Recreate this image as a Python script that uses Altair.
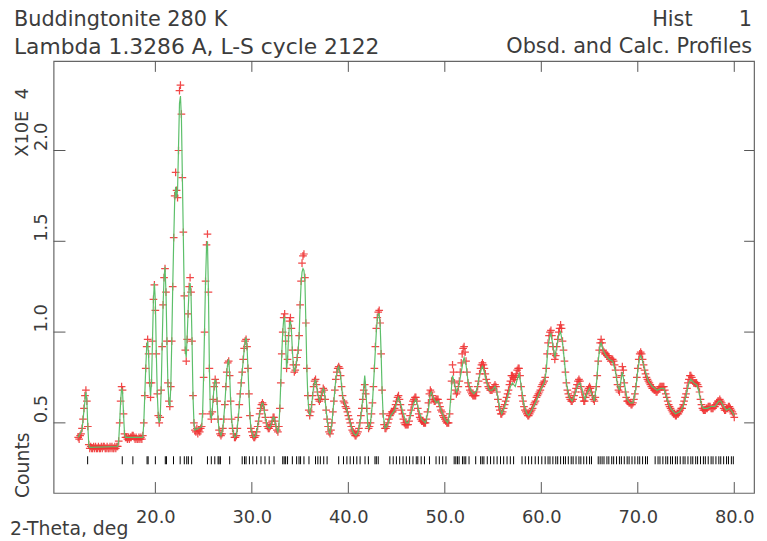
import altair as alt
import pandas as pd

# ---------------- data ----------------
# observed profile, 2-theta grid 12.0 .. 80.0 step 0.1 deg (counts x 1e4)
obs_start, obs_step = 12.0, 0.1
obs_counts = [
    0.42, 0.41, 0.43, 0.44, 0.47, 0.52, 0.58, 0.65, 0.68, 0.62,  # 12
    0.48, 0.38, 0.36, 0.37, 0.36, 0.36, 0.37, 0.36, 0.37, 0.36,  # 13
    0.36, 0.37, 0.36, 0.36, 0.37, 0.36, 0.37, 0.37, 0.36, 0.36,  # 14
    0.37, 0.36, 0.36, 0.37, 0.36, 0.37, 0.36, 0.36, 0.37, 0.36,  # 15
    0.37, 0.37, 0.40, 0.50, 0.62, 0.70, 0.68, 0.55, 0.44, 0.42,  # 16
    0.42, 0.41, 0.42, 0.41, 0.42, 0.42, 0.43, 0.43, 0.42, 0.41,  # 17
    0.42, 0.41, 0.41, 0.42, 0.41, 0.42, 0.41, 0.43, 0.50, 0.65,  # 18
    0.80, 0.92, 0.96, 0.88, 0.72, 0.64, 0.72, 0.95, 1.18, 1.26,  # 19
    1.12, 0.88, 0.66, 0.54, 0.50, 0.53, 0.68, 0.92, 1.15, 1.30,  # 20
    1.35, 1.22, 0.95, 0.72, 0.62, 0.59, 0.70, 0.95, 1.25, 1.52,  # 21
    1.75, 1.88, 1.78, 1.74, 2.00, 2.33, 2.36, 2.20, 1.85, 1.55,  # 22
    1.20, 0.90, 0.84, 0.96, 1.10, 1.25, 1.30, 1.22, 0.95, 0.65,  # 23
    0.50, 0.46, 0.45, 0.47, 0.44, 0.46, 0.45, 0.47, 0.48, 0.55,  # 24
    0.75, 1.00, 1.28, 1.48, 1.54, 1.22, 0.80, 0.55, 0.52, 0.56,  # 25
    0.63, 0.70, 0.74, 0.72, 0.62, 0.52, 0.46, 0.44, 0.43, 0.44,  # 26
    0.47, 0.52, 0.60, 0.70, 0.78, 0.83, 0.84, 0.76, 0.62, 0.52,  # 27
    0.47, 0.44, 0.42, 0.42, 0.43, 0.47, 0.53, 0.60, 0.66, 0.72,  # 28
    0.78, 0.85, 0.91, 0.95, 0.96, 0.92, 0.80, 0.66, 0.54, 0.47,  # 29
    0.45, 0.43, 0.42, 0.42, 0.43, 0.45, 0.48, 0.51, 0.55, 0.58,  # 30
    0.60, 0.61, 0.60, 0.57, 0.53, 0.50, 0.48, 0.47, 0.47, 0.48,  # 31
    0.49, 0.51, 0.53, 0.53, 0.51, 0.48, 0.46, 0.45, 0.48, 0.58,  # 32
    0.72, 0.88, 1.00, 1.08, 1.10, 0.95, 0.80, 0.85, 0.98, 1.06,  # 33
    1.08, 1.02, 0.90, 0.82, 0.78, 0.79, 0.82, 0.86, 0.90, 0.98,  # 34
    1.15, 1.28, 1.38, 1.42, 1.43, 1.30, 1.05, 0.80, 0.65, 0.57,  # 35
    0.54, 0.56, 0.60, 0.65, 0.70, 0.73, 0.74, 0.71, 0.67, 0.63,  # 36
    0.62, 0.63, 0.65, 0.67, 0.69, 0.68, 0.63, 0.57, 0.52, 0.48,  # 37
    0.45, 0.44, 0.46, 0.50, 0.56, 0.62, 0.68, 0.74, 0.78, 0.80,  # 38
    0.81, 0.80, 0.76, 0.70, 0.65, 0.62, 0.61, 0.59, 0.58, 0.56,  # 39
    0.54, 0.52, 0.50, 0.48, 0.46, 0.45, 0.44, 0.43, 0.43, 0.44,  # 40
    0.45, 0.47, 0.50, 0.54, 0.58, 0.63, 0.68, 0.71, 0.66, 0.58,  # 41
    0.50, 0.47, 0.48, 0.50, 0.55, 0.61, 0.70, 0.80, 0.92, 1.02,  # 42
    1.08, 1.11, 1.12, 1.05, 0.88, 0.68, 0.55, 0.49, 0.47, 0.47,  # 43
    0.48, 0.50, 0.52, 0.54, 0.55, 0.56, 0.56, 0.57, 0.58, 0.60,  # 44
    0.62, 0.64, 0.65, 0.63, 0.60, 0.57, 0.55, 0.52, 0.50, 0.49,  # 45
    0.49, 0.49, 0.49, 0.51, 0.54, 0.57, 0.60, 0.62, 0.63, 0.64,  # 46
    0.64, 0.62, 0.58, 0.55, 0.53, 0.52, 0.51, 0.51, 0.50, 0.50,  # 47
    0.50, 0.52, 0.56, 0.61, 0.66, 0.68, 0.67, 0.65, 0.63, 0.62,  # 48
    0.62, 0.63, 0.63, 0.63, 0.61, 0.59, 0.57, 0.56, 0.54, 0.53,  # 49
    0.52, 0.51, 0.50, 0.50, 0.50, 0.55, 0.63, 0.73, 0.82, 0.78,  # 50
    0.72, 0.68, 0.66, 0.67, 0.70, 0.73, 0.78, 0.83, 0.88, 0.91,  # 51
    0.92, 0.89, 0.84, 0.78, 0.72, 0.70, 0.68, 0.67, 0.66, 0.65,  # 52
    0.65, 0.65, 0.65, 0.67, 0.70, 0.73, 0.77, 0.80, 0.82, 0.83,  # 53
    0.82, 0.80, 0.77, 0.74, 0.72, 0.70, 0.69, 0.68, 0.68, 0.68,  # 54
    0.69, 0.70, 0.71, 0.70, 0.67, 0.63, 0.59, 0.57, 0.55, 0.55,  # 55
    0.56, 0.58, 0.60, 0.62, 0.64, 0.66, 0.68, 0.71, 0.73, 0.76,  # 56
    0.76, 0.75, 0.74, 0.75, 0.77, 0.79, 0.80, 0.80, 0.76, 0.70,  # 57
    0.65, 0.62, 0.59, 0.57, 0.56, 0.55, 0.54, 0.54, 0.55, 0.56,  # 58
    0.57, 0.58, 0.60, 0.61, 0.62, 0.64, 0.65, 0.66, 0.67, 0.68,  # 59
    0.70, 0.71, 0.72, 0.73, 0.75, 0.80, 0.88, 0.94, 0.98, 1.00,  # 60
    1.01, 0.98, 0.92, 0.88, 0.85, 0.87, 0.92, 0.96, 1.00, 1.02,  # 61
    1.04, 1.02, 0.95, 0.90, 0.84, 0.78, 0.72, 0.68, 0.66, 0.64,  # 62
    0.63, 0.62, 0.62, 0.63, 0.65, 0.67, 0.69, 0.71, 0.73, 0.74,  # 63
    0.73, 0.70, 0.67, 0.64, 0.62, 0.62, 0.64, 0.66, 0.68, 0.69,  # 64
    0.70, 0.69, 0.67, 0.65, 0.63, 0.62, 0.64, 0.70, 0.76, 0.84,  # 65
    0.90, 0.94, 0.96, 0.94, 0.90, 0.89, 0.88, 0.88, 0.87, 0.87,  # 66
    0.86, 0.85, 0.84, 0.85, 0.85, 0.84, 0.82, 0.79, 0.75, 0.71,  # 67
    0.68, 0.67, 0.70, 0.76, 0.81, 0.79, 0.72, 0.67, 0.64, 0.62,  # 68
    0.62, 0.61, 0.61, 0.60, 0.60, 0.61, 0.63, 0.66, 0.70, 0.75,  # 69
    0.80, 0.85, 0.88, 0.89, 0.88, 0.85, 0.82, 0.79, 0.77, 0.75,  # 70
    0.74, 0.73, 0.72, 0.71, 0.70, 0.69, 0.69, 0.68, 0.68, 0.67,  # 71
    0.67, 0.68, 0.69, 0.70, 0.70, 0.70, 0.70, 0.70, 0.68, 0.66,  # 72
    0.64, 0.62, 0.60, 0.59, 0.58, 0.57, 0.56, 0.55, 0.55, 0.54,  # 73
    0.54, 0.55, 0.55, 0.56, 0.57, 0.58, 0.58, 0.60, 0.62, 0.64,  # 74
    0.66, 0.69, 0.72, 0.74, 0.76, 0.76, 0.75, 0.73, 0.72, 0.72,  # 75
    0.72, 0.72, 0.71, 0.70, 0.67, 0.63, 0.60, 0.58, 0.57, 0.57,  # 76
    0.57, 0.58, 0.58, 0.59, 0.59, 0.59, 0.58, 0.58, 0.58, 0.59,  # 77
    0.59, 0.60, 0.61, 0.62, 0.62, 0.63, 0.62, 0.61, 0.60, 0.58,  # 78
    0.57, 0.57, 0.58, 0.58, 0.59, 0.59, 0.58, 0.57, 0.56, 0.55,  # 79
    0.53,                                                        # 80
]
obs_2theta = [round(obs_start + obs_step * i, 2) for i in range(len(obs_counts))]

# calculated profile (knots along the green curve)
calc_2theta = [
    12.0, 12.4, 12.6, 12.8, 12.9, 13.0, 13.1, 13.2, 16.1, 16.2, 16.3, 16.4, 16.5, 16.6, 16.7, 16.8, 16.9,
    18.7, 18.8, 18.9, 19.0, 19.1, 19.2, 19.3, 19.4, 19.5, 19.6, 19.7, 19.8, 19.9, 20.0, 20.1, 20.2, 20.3,
    20.4, 20.5, 20.6, 20.7, 20.8, 20.9, 21.0, 21.1, 21.2, 21.3, 21.4, 21.5, 21.6, 21.7, 21.8, 21.9, 22.0,
    22.1, 22.2, 22.3, 22.4, 22.5, 22.6, 22.7, 22.8, 22.9, 23.0, 23.1, 23.2, 23.3, 23.4, 23.5, 23.6, 23.7,
    23.8, 23.9, 24.0, 24.1, 24.8, 24.9, 25.0, 25.1, 25.2, 25.3, 25.4, 25.5, 25.6, 25.7, 25.8, 25.9, 26.0,
    26.1, 26.2, 26.3, 26.4, 26.5, 26.6, 26.8, 27.0, 27.2, 27.4, 27.5, 27.6, 27.7, 27.8, 27.9, 28.0, 28.2,
    28.4, 28.6, 28.8, 29.0, 29.2, 29.3, 29.4, 29.5, 29.6, 29.7, 29.8, 29.9, 30.0, 30.2, 30.4, 30.6, 30.8,
    31.0, 31.1, 31.2, 31.4, 31.6, 31.8, 32.0, 32.2, 32.3, 32.5, 32.7, 32.8, 32.9, 33.0, 33.1, 33.2, 33.3,
    33.4, 33.5, 33.6, 33.7, 33.8, 33.9, 34.0, 34.1, 34.2, 34.3, 34.4, 34.6, 34.8, 34.9, 35.0, 35.1, 35.2,
    35.3, 35.4, 35.5, 35.6, 35.7, 35.8, 35.9, 36.0, 36.2, 36.4, 36.6, 36.8, 37.0, 37.2, 37.4, 37.5, 37.7,
    37.9, 38.0, 38.1, 38.3, 38.5, 38.7, 38.9, 39.0, 39.2, 39.4, 39.6, 39.8, 40.0, 40.2, 40.4, 40.6, 40.8,
    41.0, 41.2, 41.4, 41.6, 41.7, 41.8, 41.9, 42.0, 42.1, 42.3, 42.5, 42.7, 42.9, 43.0, 43.1, 43.2, 43.3,
    43.4, 43.5, 43.6, 43.8, 44.0, 44.4, 44.8, 45.0, 45.2, 45.4, 45.7, 46.0, 46.2, 46.5, 46.8, 47.0, 47.3,
    47.6, 48.0, 48.3, 48.5, 48.6, 48.8, 49.1, 49.3, 49.6, 50.0, 50.3, 50.5, 50.7, 50.8, 51.0, 51.2, 51.4,
    51.7, 51.9, 52.0, 52.2, 52.4, 52.7, 53.0, 53.3, 53.6, 53.8, 53.9, 54.1, 54.3, 54.6, 54.9, 55.2, 55.4,
    55.7, 55.9, 56.2, 56.5, 56.8, 57.0, 57.3, 57.5, 57.7, 57.9, 58.2, 58.5, 58.7, 59.0, 59.4, 59.7, 60.0,
    60.3, 60.5, 60.7, 60.9, 61.0, 61.2, 61.4, 61.6, 61.8, 62.0, 62.2, 62.4, 62.6, 62.9, 63.2, 63.5, 63.8,
    64.0, 64.3, 64.5, 64.8, 65.0, 65.3, 65.5, 65.7, 65.9, 66.1, 66.2, 66.4, 66.7, 67.0, 67.4, 67.7, 67.9,
    68.1, 68.3, 68.4, 68.6, 68.9, 69.2, 69.5, 69.8, 70.0, 70.2, 70.3, 70.5, 70.8, 71.1, 71.5, 72.0, 72.4,
    72.7, 73.0, 73.4, 73.9, 74.3, 74.7, 75.0, 75.3, 75.5, 75.8, 76.1, 76.3, 76.6, 76.8, 77.2, 77.6, 78.0,
    78.4, 78.6, 78.9, 79.2, 79.5, 79.8, 80.0,
]
calc_counts = [
    0.42, 0.46, 0.57, 0.67, 0.62, 0.48, 0.38, 0.365, 0.37, 0.40, 0.50, 0.62, 0.69, 0.67, 0.55, 0.44, 0.42,
    0.42, 0.50, 0.65, 0.80, 0.92, 0.95, 0.87, 0.72, 0.65, 0.72, 0.95, 1.18, 1.27, 1.17, 0.88, 0.66, 0.54,
    0.50, 0.53, 0.68, 0.92, 1.15, 1.30, 1.36, 1.22, 0.95, 0.72, 0.62, 0.59, 0.70, 0.95, 1.25, 1.50, 1.72,
    1.80, 1.74, 1.78, 2.02, 2.26, 2.30, 2.18, 1.85, 1.52, 1.18, 0.90, 0.86, 0.98, 1.12, 1.24, 1.27, 1.20,
    0.95, 0.65, 0.50, 0.46, 0.48, 0.56, 0.76, 1.02, 1.28, 1.46, 1.50, 1.22, 0.80, 0.56, 0.52, 0.57, 0.64,
    0.71, 0.74, 0.72, 0.62, 0.52, 0.46, 0.43, 0.47, 0.60, 0.78, 0.83, 0.85, 0.77, 0.62, 0.52, 0.47, 0.42,
    0.43, 0.53, 0.66, 0.78, 0.90, 0.95, 0.97, 0.92, 0.80, 0.66, 0.54, 0.47, 0.45, 0.42, 0.43, 0.48, 0.55,
    0.60, 0.61, 0.60, 0.53, 0.48, 0.47, 0.49, 0.53, 0.53, 0.48, 0.45, 0.48, 0.58, 0.72, 0.88, 1.00, 1.07,
    1.08, 0.94, 0.80, 0.85, 0.97, 1.04, 1.06, 1.01, 0.90, 0.82, 0.78, 0.82, 0.90, 0.98, 1.14, 1.26, 1.33,
    1.35, 1.34, 1.28, 1.05, 0.80, 0.65, 0.57, 0.54, 0.60, 0.70, 0.74, 0.67, 0.62, 0.65, 0.69, 0.68, 0.57,
    0.48, 0.45, 0.44, 0.50, 0.62, 0.74, 0.80, 0.81, 0.76, 0.65, 0.61, 0.58, 0.54, 0.50, 0.46, 0.44, 0.43,
    0.45, 0.50, 0.58, 0.70, 0.76, 0.70, 0.60, 0.50, 0.47, 0.50, 0.61, 0.80, 1.00, 1.07, 1.10, 1.10, 1.04,
    0.88, 0.68, 0.55, 0.47, 0.48, 0.54, 0.57, 0.61, 0.64, 0.61, 0.55, 0.50, 0.50, 0.55, 0.61, 0.63, 0.57,
    0.52, 0.50, 0.57, 0.66, 0.67, 0.64, 0.61, 0.62, 0.57, 0.52, 0.50, 0.56, 0.70, 0.76, 0.72, 0.67, 0.69,
    0.78, 0.84, 0.86, 0.82, 0.73, 0.68, 0.66, 0.68, 0.76, 0.80, 0.81, 0.78, 0.73, 0.68, 0.68, 0.70, 0.67,
    0.58, 0.55, 0.59, 0.64, 0.70, 0.72, 0.70, 0.74, 0.77, 0.71, 0.60, 0.55, 0.54, 0.57, 0.61, 0.65, 0.69,
    0.72, 0.78, 0.92, 0.98, 0.99, 0.93, 0.86, 0.92, 0.98, 1.00, 0.94, 0.84, 0.72, 0.64, 0.62, 0.66, 0.71,
    0.72, 0.67, 0.63, 0.67, 0.69, 0.65, 0.62, 0.70, 0.84, 0.93, 0.94, 0.90, 0.87, 0.85, 0.84, 0.78, 0.71,
    0.68, 0.75, 0.78, 0.72, 0.63, 0.61, 0.61, 0.69, 0.79, 0.86, 0.87, 0.84, 0.78, 0.73, 0.70, 0.68, 0.69,
    0.69, 0.64, 0.58, 0.55, 0.56, 0.59, 0.65, 0.72, 0.74, 0.72, 0.71, 0.68, 0.60, 0.58, 0.58, 0.59, 0.59,
    0.62, 0.62, 0.59, 0.57, 0.58, 0.56, 0.54,
]

# reflection positions (tick marks under the profile)
reflections = [
    12.98, 16.57, 17.67, 19.14, 19.25, 20.0, 21.03, 21.15, 21.88, 22.57, 23.0, 23.25, 23.42, 23.76,
    25.4, 25.8, 26.16, 26.5, 26.6, 26.74, 27.7, 29.0, 29.24, 29.4, 29.75, 30.1, 30.5, 30.95, 31.36,
    31.8, 32.3, 33.2, 33.35, 33.5, 33.7, 34.2, 34.64, 34.89, 35.05, 35.4, 35.92, 36.6, 36.84, 37.1,
    37.45, 37.8, 39.0, 39.5, 39.85, 40.19, 40.54, 40.88, 41.22, 41.73, 42.08, 42.76, 42.9, 43.1,
    44.3, 44.65, 44.98, 45.32, 45.67, 46.01, 46.35, 46.7, 47.04, 47.2, 47.55, 47.89, 48.41, 49.09,
    49.43, 49.78, 50.12, 50.97, 51.14, 51.31, 51.48, 51.83, 52.0, 52.17, 52.51, 53.2, 53.71, 53.88,
    54.05, 54.4, 54.74, 55.08, 55.42, 55.77, 56.1, 56.45, 56.79, 57.13, 58.0, 58.34, 58.68, 59.0,
    59.37, 59.7, 60.05, 60.4, 60.7, 60.9, 61.2, 61.5, 61.7, 62.0, 62.3, 62.5, 62.8, 63.1, 63.3, 63.6,
    63.9, 64.1, 64.4, 64.7, 65.0, 65.2, 65.9, 66.1, 66.3, 66.5, 66.8, 67.0, 67.3, 67.5, 67.8, 68.1,
    68.3, 68.6, 68.9, 69.1, 69.4, 69.7, 70.0, 70.2, 70.5, 70.8, 71.0, 71.8, 72.1, 72.3, 72.6, 72.9,
    73.1, 73.4, 73.6, 73.9, 74.1, 74.4, 74.7, 74.9, 75.2, 75.5, 75.7, 76.0, 76.2, 76.5, 76.8, 77.0,
    77.3, 77.6, 77.8, 78.1, 78.4, 78.6, 78.9, 79.2, 79.4, 79.7, 79.9,
]
refl_band = [0.272, 0.316]

x_ticks = [20.0, 30.0, 40.0, 50.0, 60.0, 70.0, 80.0]
y_ticks = [0.5, 1.0, 1.5, 2.0]
x_domain = [9.45, 82.05]
y_domain = [0.114, 2.493]

# ---------------- chart ----------------
W, H = 707, 436
FONT = "DejaVu Sans"
TXT = "#3c3c3c"
RED = "#f03535"
GREEN = "#5cbf6a"

obs_df = pd.DataFrame({"tth": obs_2theta, "counts": obs_counts})
calc_df = pd.DataFrame({"tth": calc_2theta, "counts": calc_counts})
refl_df = pd.DataFrame({"tth": reflections})
xt_df = pd.DataFrame({"tth": x_ticks})
yt_df = pd.DataFrame({"counts": y_ticks})

xs = alt.Scale(domain=x_domain, nice=False, zero=False)
ys = alt.Scale(domain=y_domain, nice=False, zero=False)

x_axis = alt.Axis(values=x_ticks, format=".1f", ticks=False, domain=False, grid=False,
                  labelPadding=25, labelBaseline="middle", labelAlign="center",
                  labelFont=FONT, labelFontSize=18, labelColor=TXT, title=None,
                  labelOverlap=False, labelFlush=False)
y_axis = alt.Axis(values=y_ticks, format=".1f", ticks=False, domain=False, grid=False,
                  labelPadding=12, labelAngle=270, labelAlign="left", labelBaseline="middle",
                  labelFont=FONT, labelFontSize=18, labelColor=TXT, title=None,
                  labelOverlap=False, labelFlush=False)

obs = alt.Chart(obs_df).mark_point(
    shape="M-1,0L1,0M0,-1L0,1", filled=False, size=60, strokeWidth=1.25,
    color=RED, opacity=0.9
).encode(
    x=alt.X("tth:Q", scale=xs, axis=x_axis),
    y=alt.Y("counts:Q", scale=ys, axis=y_axis),
)

calc = alt.Chart(calc_df).mark_line(color=GREEN, strokeWidth=1.2).encode(
    x=alt.X("tth:Q", scale=xs),
    y=alt.Y("counts:Q", scale=ys),
)

refl = alt.Chart(refl_df).mark_rule(color="black", strokeWidth=1).encode(
    x=alt.X("tth:Q", scale=xs),
    y=alt.datum(refl_band[0]),
    y2=alt.datum(refl_band[1]),
)

tick_color = "#555555"
xt_bottom = alt.Chart(xt_df).mark_rule(color=tick_color).encode(
    x=alt.X("tth:Q", scale=xs), y=alt.value(H), y2=alt.value(H - 11))
xt_top = alt.Chart(xt_df).mark_rule(color=tick_color).encode(
    x=alt.X("tth:Q", scale=xs), y=alt.value(0), y2=alt.value(11))
yt_left = alt.Chart(yt_df).mark_rule(color=tick_color).encode(
    y=alt.Y("counts:Q", scale=ys), x=alt.value(0), x2=alt.value(12))
yt_right = alt.Chart(yt_df).mark_rule(color=tick_color).encode(
    y=alt.Y("counts:Q", scale=ys), x=alt.value(W), x2=alt.value(W - 10))

one = pd.DataFrame({"k": [0]})


def label(text, x, y, align="left", angle=0, size=21):
    return alt.Chart(one).mark_text(
        align=align, baseline="middle", font=FONT, fontSize=size, color=TXT, angle=angle
    ).encode(x=alt.value(x), y=alt.value(y), text=alt.value(text))


NB = "\u00a0"
texts = [
    label("Buddingtonite 280 K", -40, -41),
    label("Lambda 1.3286 A, L-S cycle 2122", -40, -14, size=22),
    label("Hist" + NB * 7 + "1", W - 2, -41, align="right"),
    label("Obsd. and Calc. Profiles", W - 2, -14, align="right"),
    label("X10E" + NB * 2 + "4", -31, 62, align="center", angle=270, size=18),
    label("Counts", -31, 408, align="center", angle=270, size=19),
    label("2-Theta, deg", -44, 472, size=19),
]

chart = alt.layer(refl, obs, calc, xt_bottom, xt_top, yt_left, yt_right, *texts).properties(
    width=W, height=H,
    padding={"left": 46, "top": 51, "right": 5, "bottom": 45},
    autosize=alt.AutoSizeParams(type="none"),
    background="white",
).configure_view(stroke="#666666", strokeWidth=1.2)

chart.save("out.html", embed_options={"renderer": "svg", "actions": False})
